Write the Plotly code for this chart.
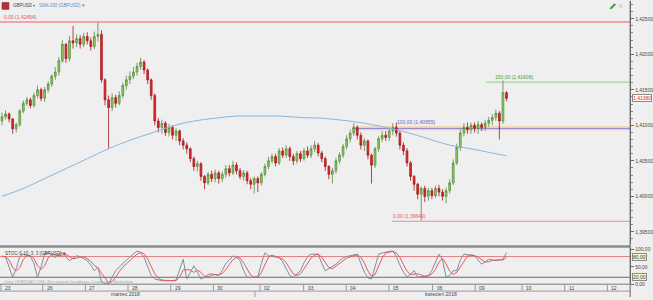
import plotly.graph_objects as go

W, H = 653, 300
def px(x): return x / W
def py(y): return 1 - y / H

# ---------------- data ----------------
first_open = 1.4106
close = [1.4112,1.4116,1.4109,1.4095,1.4101,1.4120,1.4131,1.4136,1.4128,1.4142,1.4150,1.4138,
         1.4150,1.4158,1.4169,1.4175,1.4191,1.4214,1.4194,1.4219,1.4216,1.4222,1.4214,1.4225,
         1.4219,1.4211,1.4225,1.4228,1.4164,1.4136,1.4125,1.4139,1.4131,1.4142,1.4156,1.4164,
         1.4169,1.4175,1.4183,1.4189,1.4178,1.4164,1.4142,1.4106,1.4097,1.4103,1.4090,1.4097,
         1.4086,1.4092,1.4078,1.4072,1.4067,1.4053,1.4042,1.4046,1.4028,1.4019,1.4031,1.4025,
         1.4033,1.4025,1.4031,1.4039,1.4033,1.4044,1.4036,1.4028,1.4033,1.4022,1.4017,1.4025,
         1.4019,1.4031,1.4042,1.4050,1.4056,1.4047,1.4064,1.4058,1.4067,1.4056,1.4050,1.4060,
         1.4053,1.4064,1.4058,1.4067,1.4072,1.4061,1.4053,1.4042,1.4031,1.4036,1.4050,1.4058,
         1.4070,1.4081,1.4089,1.4097,1.4086,1.4072,1.4078,1.4058,1.4044,1.4067,1.4081,1.4086,
         1.4083,1.4092,1.4097,1.4089,1.4072,1.4064,1.4047,1.4028,1.4017,1.4003,1.4011,1.4000,
         1.4008,1.4001,1.4011,1.4006,1.4000,1.4008,1.4019,1.4047,1.4069,1.4089,1.4097,1.4094,
         1.4100,1.4096,1.4101,1.4097,1.4103,1.4107,1.4111,1.4117,1.4106,1.4146,1.4138]
high = [1.4118,1.4121,1.4118,1.4110,1.4104,1.4123,1.4135,1.4140,1.4139,1.4146,1.4156,1.4153,
        1.4154,1.4162,1.4172,1.4182,1.4196,1.4220,1.4216,1.4226,1.4240,1.4228,1.4227,1.4230,
        1.4231,1.4224,1.4232,1.4245,1.4234,1.4166,1.4142,1.4145,1.4143,1.4148,1.4160,1.4170,
        1.4176,1.4182,1.4188,1.4195,1.4192,1.4180,1.4166,1.4145,1.4110,1.4108,1.4106,1.4102,
        1.4100,1.4096,1.4094,1.4082,1.4076,1.4069,1.4056,1.4050,1.4048,1.4030,1.4034,1.4036,
        1.4038,1.4036,1.4035,1.4044,1.4044,1.4050,1.4048,1.4040,1.4037,1.4036,1.4026,1.4028,
        1.4028,1.4034,1.4046,1.4056,1.4060,1.4060,1.4068,1.4069,1.4072,1.4070,1.4060,1.4064,
        1.4064,1.4068,1.4070,1.4072,1.4078,1.4075,1.4064,1.4056,1.4044,1.4040,1.4054,1.4062,
        1.4074,1.4086,1.4094,1.4103,1.4100,1.4090,1.4082,1.4080,1.4060,1.4070,1.4085,1.4092,
        1.4092,1.4096,1.4103,1.4104,1.4092,1.4076,1.4068,1.4050,1.4030,1.4019,1.4014,1.4015,
        1.4012,1.4012,1.4015,1.4016,1.4010,1.4012,1.4024,1.4052,1.4074,1.4094,1.4103,1.4104,
        1.4104,1.4104,1.4106,1.4104,1.4108,1.4112,1.4116,1.4122,1.4120,1.4163,1.4148]
low = [1.4100,1.4108,1.4104,1.4088,1.4090,1.4098,1.4117,1.4127,1.4124,1.4125,1.4138,1.4134,
       1.4133,1.4146,1.4154,1.4164,1.4170,1.4188,1.4188,1.4190,1.4208,1.4210,1.4208,1.4210,
       1.4214,1.4205,1.4207,1.4218,1.4160,1.4128,1.4067,1.4120,1.4125,1.4128,1.4138,1.4150,
       1.4158,1.4165,1.4170,1.4178,1.4172,1.4158,1.4136,1.4100,1.4090,1.4088,1.4085,1.4084,
       1.4080,1.4078,1.4072,1.4066,1.4060,1.4048,1.4036,1.4035,1.4022,1.4010,1.4016,1.4020,
       1.4020,1.4018,1.4020,1.4026,1.4028,1.4030,1.4031,1.4024,1.4022,1.4017,1.4010,1.4004,
       1.4006,1.4015,1.4028,1.4038,1.4046,1.4042,1.4044,1.4054,1.4054,1.4050,1.4044,1.4046,
       1.4048,1.4050,1.4054,1.4054,1.4062,1.4056,1.4048,1.4036,1.4024,1.4018,1.4032,1.4046,
       1.4054,1.4066,1.4076,1.4085,1.4080,1.4066,1.4064,1.4052,1.4018,1.4040,1.4062,1.4076,
       1.4078,1.4078,1.4086,1.4084,1.4066,1.4058,1.4042,1.4022,1.4008,1.3996,1.3966,1.3992,
       1.3994,1.3996,1.3998,1.4000,1.3994,1.3990,1.4004,1.4016,1.4044,1.4064,1.4084,1.4088,
       1.4088,1.4090,1.4088,1.4092,1.4092,1.4098,1.4100,1.4106,1.4080,1.4102,1.4134]

sma_idx = [0,6,12,18,24,30,36,42,48,54,60,66,72,78,84,90,96,102,108,114,120,126,132,138,142]
sma_val = [1.4000,1.4011,1.4025,1.4039,1.4053,1.4067,1.4079,1.4089,1.4099,1.4106,1.4110,1.4113,
           1.4113,1.4113,1.4111,1.4110,1.4107,1.4103,1.4097,1.4090,1.4081,1.4072,1.4067,1.4061,1.4057]

stoch_k = [82,78,50,20,45,80,87,82,80,60,20,50,
           88,91,85,77,88,91,80,68,75,82,80,74,
           68,55,39,49,6,2,1,20,39,50,60,68,
           78,88,96,92,77,50,25,15,12,10,10,9,
           10,12,40,72,15,35,53,35,15,20,28,30,
           27,25,40,60,70,82,78,68,40,20,19,20,
           22,60,91,82,80,78,77,65,45,25,20,30,
           39,62,80,87,86,87,60,39,45,52,58,68,
           76,80,82,86,87,60,35,18,15,50,87,90,
           93,95,96,80,55,35,20,30,39,20,22,25,
           25,40,65,87,70,20,25,39,39,70,87,85,
           83,82,70,58,65,72,70,68,70,72,91]
stoch_d = [80,80,70,49,38,48,71,83,83,74,53,43,
           53,76,88,84,83,85,86,80,74,75,79,79,
           74,66,54,48,31,19,3,8,20,36,50,59,
           69,78,87,92,88,73,51,30,17,12,11,10,
           10,10,21,41,42,41,34,41,34,23,21,26,
           28,27,31,42,57,71,77,76,62,43,26,20,
           20,34,58,78,84,80,78,73,62,45,30,25,
           30,44,60,76,84,87,78,62,48,45,52,59,
           67,75,79,83,85,78,61,38,23,28,51,76,
           90,93,95,90,77,57,37,28,30,30,27,22,
           24,30,43,64,74,59,38,28,34,49,65,81,
           85,83,78,70,64,65,69,70,69,70,78]

price_ticks = [1.395, 1.400, 1.405, 1.410, 1.415, 1.420, 1.425]
stoch_ticks = [0, 50, 100]
day_labels = ["23","26","27","28","29","30","02","03","04","05","06","09","10","11","12"]
day_pos = [-0.28,11.45,23.46,35.47,47.49,59.5,72.6,84.9,96.9,108.9,121.2,133.2,146.4,158.4,170.4]
month_labels = ["marzec 2018", "kwiecień 2018"]
month_pos = [34.9, 123.5]
month_break = 71.2

fib_top = 1.42454
fib_150 = 1.41608
fib_100 = 1.40955
fib_0 = 1.39649
last_price = 1.41380

# ---------------- figure ----------------
N = len(close)
idx = list(range(N))
opens = [first_open] + close[:-1]
X_MIN, X_MAX = -0.56, 176.8
FONT = "Liberation Sans"

fig = go.Figure()
fig.add_trace(go.Scatter(x=sma_idx, y=sma_val, mode="lines",
                         line=dict(color="#86b6e2", width=1, shape="spline"),
                         xaxis="x", yaxis="y", hoverinfo="skip", showlegend=False))
fig.add_trace(go.Candlestick(x=idx, open=opens, high=high, low=low, close=close,
                             increasing=dict(line=dict(color="#5a8c3c", width=0.8), fillcolor="#8fd163"),
                             decreasing=dict(line=dict(color="#a8181c", width=0.8), fillcolor="#e3262b"),
                             whiskerwidth=0, xaxis="x", yaxis="y", hoverinfo="skip", showlegend=False))
fig.add_trace(go.Scatter(x=idx, y=stoch_k, mode="lines", line=dict(color="#7b8ea8", width=1),
                         xaxis="x2", yaxis="y2", hoverinfo="skip", showlegend=False))
fig.add_trace(go.Scatter(x=idx, y=stoch_d, mode="lines", line=dict(color="#e35a5a", width=1),
                         xaxis="x2", yaxis="y2", hoverinfo="skip", showlegend=False))

shapes = []
ann = []

# fib / level lines
shapes.append(dict(type="line", xref="x", yref="y", x0=X_MIN, x1=X_MAX, y0=fib_top, y1=fib_top,
                   line=dict(color="#f3a5a5", width=2), layer="below"))
shapes.append(dict(type="rect", xref="x", yref="y", x0=98.6, x1=X_MAX, y0=fib_100 - 0.00026, y1=fib_100 + 0.00030,
                   fillcolor="#f6cfa4", line=dict(width=0), layer="below"))
shapes.append(dict(type="line", xref="x", yref="y", x0=98.6, x1=X_MAX, y0=fib_100, y1=fib_100,
                   line=dict(color="#9a88cc", width=1), layer="below"))
shapes.append(dict(type="line", xref="x", yref="y", x0=136.3, x1=X_MAX, y0=fib_150, y1=fib_150,
                   line=dict(color="#8ccf7e", width=1), layer="below"))
shapes.append(dict(type="line", xref="x", yref="y", x0=109.8, x1=X_MAX, y0=fib_0, y1=fib_0,
                   line=dict(color="#f08a8a", width=1), layer="below"))

def label(x, y, text, color, xref="x", yref="y", size=5, xanchor="left", yanchor="bottom", **kw):
    d = dict(x=x, y=y, xref=xref, yref=yref, text=text, showarrow=False, xanchor=xanchor,
             yanchor=yanchor, font=dict(family=FONT, size=size, color=color))
    d.update(kw)
    ann.append(d)

label(0.1, fib_top, "0,00 (1,42454)", "#e05555")
label(138.3, fib_150, "150,00 (1,41608)", "#4ca23a")
label(110.6, fib_100 + 0.0002, "100,00 (1,40955)", "#6464d2")
label(109.4, fib_0, "0,00 (1,39649)", "#e05555")

# stochastic levels
shapes.append(dict(type="line", xref="x2", yref="y2", x0=X_MIN, x1=X_MAX, y0=80, y1=80,
                   line=dict(color="#e48080", width=1), layer="below"))
shapes.append(dict(type="line", xref="x2", yref="y2", x0=X_MIN, x1=X_MAX, y0=20, y1=20,
                   line=dict(color="#6a6a6a", width=1), layer="below"))

# panel separators
shapes.append(dict(type="rect", xref="paper", yref="paper", x0=0, x1=px(635), y0=py(250), y1=py(247.5),
                   fillcolor="#8c8c8c", line=dict(width=0)))
shapes.append(dict(type="line", xref="paper", yref="paper", x0=0, x1=px(635), y0=py(287), y1=py(287),
                   line=dict(color="#7a7a7a", width=1)))
shapes.append(dict(type="line", xref="paper", yref="paper", x0=0, x1=px(635), y0=py(294), y1=py(294),
                   line=dict(color="#9a9a9a", width=1)))
shapes.append(dict(type="line", xref="paper", yref="paper", x0=px(635), x1=px(635), y0=0, y1=1,
                   line=dict(color="#666666", width=1)))
for p in day_pos:
    shapes.append(dict(type="line", xref="x2", yref="paper", x0=p, x1=p, y0=py(294), y1=py(287),
                       line=dict(color="#9a9a9a", width=1)))
shapes.append(dict(type="line", xref="x2", yref="paper", x0=month_break, x1=month_break, y0=0, y1=py(294),
                   line=dict(color="#9a9a9a", width=1)))

for p, t in zip(day_pos, day_labels):
    label(p + 0.55, py(290.7), t, "#444444", xref="x2", yref="paper", yanchor="middle")
for p, t in zip(month_pos, month_labels):
    label(p, py(297.3), t, "#444444", xref="x2", yref="paper", xanchor="center", yanchor="middle")

# toolbar
shapes.append(dict(type="rect", xref="paper", yref="paper", x0=px(2), x1=px(9), y0=py(8.5), y1=py(1.5),
                   fillcolor="#b9302e", line=dict(color="#8a1f1f", width=0.5)))
label(px(11), py(5), "GBPUSD", "#444444", xref="paper", yref="paper", yanchor="middle", size=4.5)
label(px(31.5), py(5), "▾", "#666666", xref="paper", yref="paper", yanchor="middle", size=4)
label(px(37), py(5), "SMA 200 (GBPUSD) ▾", "#5b8fd0", xref="paper", yref="paper", yanchor="middle", size=4.5)
shapes.append(dict(type="line", xref="paper", yref="paper", x0=px(615), x1=px(620), y0=py(8), y1=py(3),
                   line=dict(color="#3c9a3c", width=2)))
shapes.append(dict(type="rect", xref="paper", yref="paper", x0=px(623.5), x1=px(627.5), y0=py(7), y1=py(3),
                   fillcolor="#d8d8d8", line=dict(width=0)))

# stochastic label & watermark
label(px(3), py(256), "STOC-S 10, 3, 3 (GBPUSD) ▾", "#444444", xref="paper", yref="paper",
      yanchor="middle", size=4.5)
label(px(2), py(284), "Ceny ORIENTACYJNE. Bez wartości handlowej, Comdagen, Marketdata", "#a8a8a8",
      xref="paper", yref="paper", yanchor="middle", size=4)

# price tags on the right axis
label(px(636.5), last_price, "1,41380", "#d42020", xref="paper", yref="y", yanchor="middle",
      bgcolor="#ffffff", bordercolor="#8a8a8a", borderwidth=1, borderpad=0)
label(px(636.5), 80, "80,00", "#333333", xref="paper", yref="y2", yanchor="middle",
      bgcolor="#fbf8cc", bordercolor="#8a8a8a", borderwidth=1, borderpad=0)
label(px(636.5), 20, "20,00", "#333333", xref="paper", yref="y2", yanchor="middle",
      bgcolor="#fbf8cc", bordercolor="#8a8a8a", borderwidth=1, borderpad=0)

bg = "#efefef"
fig.update_layout(
    width=W, height=H, autosize=False,
    margin=dict(l=0, r=0, t=0, b=0, pad=0),
    paper_bgcolor=bg, plot_bgcolor=bg,
    separators=", ",
    hovermode=False,
    showlegend=False,
    font=dict(family=FONT, size=5, color="#444444"),
    xaxis=dict(domain=[0, px(635)], range=[X_MIN, X_MAX], anchor="y", showticklabels=False,
               showgrid=False, zeroline=False, showline=False, ticks="",
               rangeslider=dict(visible=False), fixedrange=True),
    yaxis=dict(domain=[py(246), 1], range=[1.39333, 1.4275], anchor="x", side="right",
               tickvals=price_ticks, tickformat=".5f", showgrid=False, zeroline=False,
               showline=True, linecolor="#666666", linewidth=1, ticks="outside", ticklen=3,
               tickcolor="#666666", tickfont=dict(family=FONT, size=5, color="#444444"),
               minor=dict(tick0=1.39, dtick=0.001, ticks="outside", ticklen=2, tickcolor="#888888"),
               fixedrange=True),
    xaxis2=dict(domain=[0, px(635)], range=[X_MIN, X_MAX], anchor="y2", showticklabels=False,
                showgrid=False, zeroline=False, showline=False, ticks="", fixedrange=True),
    yaxis2=dict(domain=[py(287), py(250)], range=[0, 105.7], anchor="x2", side="right",
                tickvals=stoch_ticks, tickformat=".2f", showgrid=False, zeroline=False,
                showline=True, linecolor="#666666", linewidth=1, ticks="outside", ticklen=3,
                tickcolor="#666666", tickfont=dict(family=FONT, size=5, color="#444444"),
                fixedrange=True),
    shapes=shapes,
    annotations=ann,
)

fig.write_html("out.html", config={"displayModeBar": False, "staticPlot": True})
